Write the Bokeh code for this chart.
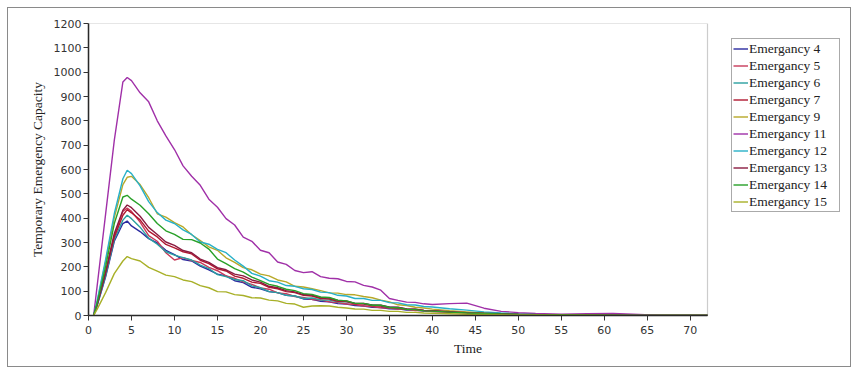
from bokeh.plotting import figure
from bokeh.models import Legend, LegendItem, Range1d, FixedTicker, BoxAnnotation
from bokeh.embed import file_html
from bokeh.resources import INLINE

T = [0.6, 1, 2, 3, 4, 4.5, 5, 6, 7, 8, 9, 10, 11, 12, 13, 14, 15, 16, 17, 18, 19, 20,
     21, 22, 23, 24, 25, 26, 27, 28, 29, 30, 31, 32, 33, 34, 35, 36, 37, 38, 39, 40,
     42, 44, 46, 48, 50, 52, 55, 58, 61, 64, 67, 72]

em4 = [0, 40, 160, 305, 378, 388, 368, 345, 316, 298, 268, 250, 230, 224, 203, 188, 170, 163, 143, 135, 116, 110,
       98, 94, 83, 80, 68, 67, 58, 56, 49, 47, 41, 39, 34, 33, 28, 27, 22, 22, 18, 17,
       14, 11, 8, 6, 4, 3, 2, 1, 0, 0, 0, 0]
em5 = [0, 45, 182, 328, 428, 442, 428, 384, 328, 305, 258, 228, 238, 226, 218, 198, 184, 163, 153, 138, 128, 113,
       108, 93, 90, 78, 74, 66, 64, 56, 53, 47, 45, 39, 37, 32, 31, 26, 25, 20, 20, 16,
       13, 10, 7, 5, 4, 3, 2, 1, 0, 0, 0, 0]
em6 = [0, 42, 165, 312, 392, 412, 398, 363, 318, 293, 262, 248, 238, 228, 207, 193, 168, 160, 148, 143, 122, 114,
       98, 94, 83, 80, 70, 72, 64, 63, 56, 56, 50, 49, 43, 41, 35, 33, 27, 26, 21, 20,
       16, 12, 9, 6, 4, 3, 2, 1, 0, 0, 0, 0]
em7 = [0, 45, 176, 322, 412, 435, 422, 393, 347, 323, 292, 278, 262, 253, 227, 213, 192, 183, 162, 153, 137, 132,
       116, 110, 98, 94, 83, 80, 70, 68, 58, 57, 48, 47, 41, 39, 33, 31, 26, 25, 21, 20,
       15, 12, 9, 7, 5, 4, 3, 2, 1, 0, 0, 0]
em9 = [0, 55, 222, 402, 538, 568, 572, 538, 484, 418, 404, 382, 364, 332, 308, 282, 268, 237, 218, 197, 188, 170,
       163, 146, 138, 120, 117, 110, 102, 93, 92, 86, 85, 78, 73, 63, 56, 44, 41, 34, 31, 26,
       20, 15, 10, 6, 4, 3, 2, 1, 0, 0, 0, 0]
em11 = [0, 120, 420, 720, 960, 978, 965, 915, 878, 800, 738, 682, 615, 572, 535, 478, 445, 398, 372, 322, 305, 268,
        258, 220, 210, 185, 176, 180, 160, 153, 151, 140, 138, 124, 117, 104, 70, 62, 55, 54, 48, 45,
        49, 51, 30, 17, 12, 8, 5, 7, 8, 4, 0, 0]
em12 = [0, 60, 232, 418, 562, 597, 583, 533, 468, 423, 392, 378, 352, 333, 302, 293, 272, 258, 228, 203, 173, 162,
        143, 137, 123, 120, 110, 107, 96, 94, 83, 80, 70, 70, 62, 62, 53, 52, 44, 43, 37, 35,
        28, 22, 15, 10, 6, 4, 2, 1, 0, 0, 0, 0]
em13 = [0, 45, 180, 337, 433, 454, 443, 408, 362, 333, 302, 288, 267, 258, 232, 218, 197, 188, 170, 163, 146, 137,
        120, 114, 102, 97, 86, 84, 74, 72, 62, 60, 50, 50, 42, 42, 34, 34, 27, 26, 21, 20,
        16, 12, 9, 7, 5, 4, 3, 2, 1, 0, 0, 0]
em14 = [0, 50, 202, 378, 487, 494, 478, 453, 418, 378, 348, 333, 313, 312, 298, 273, 232, 213, 193, 178, 158, 143,
        128, 120, 108, 102, 90, 87, 76, 74, 63, 60, 50, 50, 42, 42, 33, 32, 25, 24, 19, 18,
        14, 10, 8, 6, 4, 3, 3, 2, 1, 0, 0, 0]
em15 = [0, 25, 95, 172, 224, 242, 234, 224, 198, 182, 166, 160, 146, 139, 123, 114, 98, 97, 86, 82, 73, 72,
        63, 60, 50, 47, 34, 39, 40, 39, 34, 31, 27, 26, 21, 21, 17, 17, 13, 13, 10, 9,
        7, 5, 4, 3, 2, 2, 1, 1, 0, 0, 0, 0]

labels = ["Emergancy 4", "Emergancy 5", "Emergancy 6", "Emergancy 7", "Emergancy 9",
          "Emergancy 11", "Emergancy 12", "Emergancy 13", "Emergancy 14", "Emergancy 15"]
series = [em4, em5, em6, em7, em9, em11, em12, em13, em14, em15]
colors = ["#2a2aa0", "#c83a5a", "#2aa0a0", "#b01830", "#b8a828",
          "#a030a8", "#28b0c8", "#8a1a40", "#28a028", "#a8b028"]

x_ticks = list(range(0, 71, 5))
y_ticks = list(range(0, 1201, 100))
x_max = 72
y_max = 1200

# frame spans the legend area too; the axis is bounded to the data range
frame_w = 844 - 80 - 5
x_end = x_max * frame_w / 619.0

p = figure(width=844, height=360, output_backend="svg", toolbar_location=None,
           x_range=Range1d(0, x_end), y_range=Range1d(0, y_max),
           min_border_left=80, min_border_right=5, min_border_top=15, min_border_bottom=53)
p.styles = {"border": "1px solid #8a8a8a", "margin": "7px 0 0 7px"}
p.xgrid.visible = False
p.ygrid.visible = False
p.outline_line_color = None

p.add_layout(BoxAnnotation(left=0, right=x_max, bottom=0, top=y_max,
                           fill_alpha=0, line_color="#555555", line_width=1.2))

renderers = []
for s, c in zip(series, colors):
    r = p.line(T, s, line_color=c, line_width=1.4)
    renderers.append(r)

p.xaxis.ticker = FixedTicker(ticks=x_ticks)
p.yaxis.ticker = FixedTicker(ticks=y_ticks)
p.xaxis.bounds = (0, x_max)
for ax in (p.xaxis[0], p.yaxis[0]):
    ax.minor_tick_line_color = None
    ax.major_tick_out = 5
    ax.major_tick_in = 0
    ax.axis_line_color = "#222222"
    ax.axis_line_width = 1.5
    ax.major_tick_line_color = "#333333"
    ax.major_label_text_font = "DejaVu Sans"
    ax.major_label_text_font_size = "11px"
    ax.major_label_text_color = "#333333"
    ax.axis_label_text_font = "Liberation Serif"
    ax.axis_label_text_font_size = "13.5px"
    ax.axis_label_text_font_style = "normal"
    ax.axis_label_text_color = "#222222"
p.xaxis.axis_label = "Time"
p.yaxis.axis_label = "Temporary Emergency Capacity"
p.xaxis.axis_label_standoff = 4
p.yaxis.axis_label_standoff = 6
p.xaxis.major_label_standoff = 5
p.yaxis.major_label_standoff = 2

items = [LegendItem(label=l, renderers=[r]) for l, r in zip(labels, renderers)]
legend = Legend(items=items, location=(643, 103), orientation="vertical",
                label_text_font="Liberation Serif", label_text_font_size="13.5px",
                label_text_color="#222222",
                glyph_width=15, glyph_height=17, label_height=17, label_standoff=1,
                label_width=89,
                spacing=0, padding=1, margin=0,
                border_line_color="#555555", border_line_width=1,
                background_fill_alpha=0)
p.add_layout(legend, "center")

open("out.html", "w").write(file_html(p, INLINE))
